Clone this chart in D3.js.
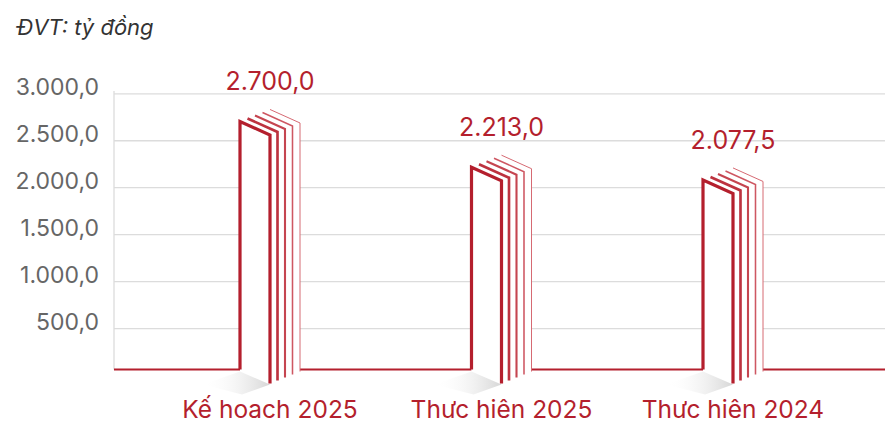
<!DOCTYPE html>
<html>
<head>
<meta charset="UTF-8">
<title>Chart</title>
<script src="https://cdn.jsdelivr.net/npm/d3@7"></script>
<style type="text/css">
body, html {
    margin: 0;
    background: #fff;
}
svg text {
    font-family: Inter, Roboto, sans-serif;
}
.axis .domain {
    display: none;
}
.axis line {
    stroke: #dcdcdc;
    stroke-width: 1.3;
}
.axis text {
    fill: #666;
    font-size: 23px;
}
</style>
</head>
<body>
<div class="chart"></div>
<script type="text/javascript">
// data
var categories = ["Kế hoach 2025", "Thưc hiên 2025", "Thưc hiên 2024"];
var values = [2700, 2213, 2077.5];
var yTicks = [500, 1000, 1500, 2000, 2500, 3000];
var unitLabel = "ĐVT: tỷ đồng";

var W = 885, H = 423,
    axisX = 114,
    floorY = 369.5,
    red = "#b41f2d";

var vn = d3.formatLocale({decimal: ",", thousands: ".", grouping: [3], currency: ["", ""]});
var fmt = vn.format(",.1f");

var x = d3.scalePoint().domain(categories).range([270, 733]),
    y = d3.scaleLinear().domain([0, 3000]).range([375, 93.3]);

var svg = d3.select(".chart")
    .append("svg")
    .attr("width", W)
    .attr("height", H);

var defs = svg.append("defs");
var grad = defs.append("linearGradient")
    .attr("id", "shadow")
    .attr("x1", 1).attr("y1", 0)
    .attr("x2", 0).attr("y2", 0);
grad.append("stop").attr("offset", 0).attr("stop-color", "#d6d6d6");
grad.append("stop").attr("offset", 1).attr("stop-color", "#fff").attr("stop-opacity", 0);

// unit title
svg.append("text")
    .attr("x", 17)
    .attr("y", 35)
    .style("font-style", "italic")
    .style("font-size", "22px")
    .style("fill", "#333")
    .text(unitLabel);

// grid + tick labels
svg.append("g")
    .attr("class", "axis")
    .attr("transform", "translate(" + axisX + ",0)")
    .call(d3.axisLeft(y).tickValues(yTicks).tickSize(-(W - axisX)).tickPadding(15).tickFormat(fmt))
    .selectAll("text")
    .attr("dy", "0.05em");

svg.append("line")
    .attr("x1", axisX).attr("x2", axisX)
    .attr("y1", 91).attr("y2", floorY)
    .attr("stroke", "#dcdcdc")
    .attr("stroke-width", 1.3);

// bar geometry
var faceW = 30, skew = 13.5, drop = 14, pages = 5, pdx = 7.5, pdy = -3;
function geo(d, i) {
    var R = x(categories[i]), L = R - faceW, tL = y(d);
    return {L: L, R: R, tL: tL, tR: tL + skew, bL: floorY, bR: floorY + drop};
}

// red floor line segments between bars
var segs = [];
var prev = axisX;
values.forEach(function (d, i) {
    var g = geo(d, i);
    segs.push([prev, g.L]);
    prev = g.R + pdx * (pages - 1);
});
segs.push([prev, W]);
svg.selectAll(".floor")
    .data(segs)
    .enter()
    .append("line")
    .attr("x1", function (s) { return s[0]; })
    .attr("x2", function (s) { return s[1]; })
    .attr("y1", floorY).attr("y2", floorY)
    .attr("stroke", red)
    .attr("stroke-width", 2);

var colorAt = d3.interpolateRgb(red, "#d66a73");

var bars = svg.selectAll(".bar")
    .data(values)
    .enter()
    .append("g")
    .attr("class", "bar");

bars.each(function (d, i) {
    var g = geo(d, i), b = d3.select(this);
    var ox = pdx * (pages - 1), oy = pdy * (pages - 1);

    // floor shadow
    b.append("path")
        .attr("d", "M" + g.L + "," + (g.bL + 2) + "L" + g.R + "," + (g.bR + 1) +
            "L" + (g.L + 2) + "," + (g.bR + 11) + "L" + (g.L - 37) + "," + (g.bR + 1) + "Z")
        .attr("fill", "url(#shadow)");

    // white body hiding the grid
    b.append("path")
        .attr("d", "M" + g.L + "," + (g.bL + 1) + "L" + g.L + "," + g.tL + "L" + (g.L + ox) + "," + (g.tL + oy) +
            "L" + (g.R + ox) + "," + (g.tR + oy) + "L" + (g.R + ox) + "," + (g.bR + oy) + "L" + g.R + "," + g.bR + "Z")
        .attr("fill", "#fff");

    d3.range(pages - 1, -1, -1).forEach(function (k) {
        var dx = pdx * k, dy = pdy * k, p;
        if (k === 0) {
            p = "M" + g.L + "," + g.bL + "V" + g.tL + "L" + g.R + "," + g.tR + "V" + g.bR;
        } else {
            p = "M" + (g.L + dx) + "," + (g.tL + dy) + "L" + (g.R + dx) + "," + (g.tR + dy) + "V" + (g.bR + dy);
        }
        b.append("path")
            .attr("d", p)
            .attr("fill", "none")
            .attr("stroke", colorAt(k / (pages - 1)))
            .attr("stroke-width", 3.2 - k * 0.55)
            .attr("stroke-linejoin", "miter");
    });

    b.append("text")
        .attr("x", g.R)
        .attr("y", g.tL - 31)
        .attr("text-anchor", "middle")
        .style("font-size", "25px")
        .style("fill", red)
        .text(fmt(d));

    b.append("text")
        .attr("x", g.R)
        .attr("y", 418)
        .attr("text-anchor", "middle")
        .style("font-size", "24.5px")
        .style("fill", red)
        .text(categories[i]);
});
</script>
</body>
</html>
